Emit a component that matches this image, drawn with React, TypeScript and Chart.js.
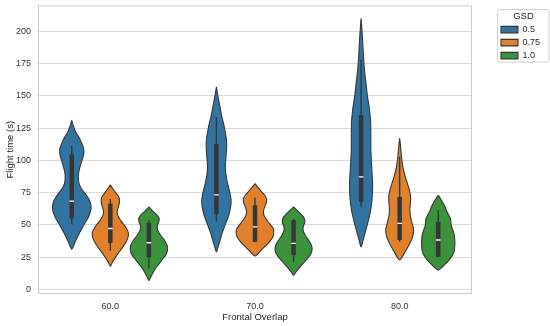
import React, { useEffect, useRef } from "react";
import { Chart, registerables } from "chart.js";

Chart.register(...registerables);

const CATEGORIES = ["60.0", "70.0", "80.0"];
const HUES = ["0.5", "0.75", "1.0"];
const HUE_COLORS = ["#3274a1", "#e1812c", "#3a923a"];
const Y_TICKS = [0, 25, 50, 75, 100, 125, 150, 175, 200];
const X_TITLE = "Frontal Overlap";
const Y_TITLE = "Flight time (s)";
const LEGEND_TITLE = "GSD";

// Violin density profiles: [flight time value, relative density]
const violin_60_05 = [[131, 0], [127, 1.5], [122, 4], [117, 8], [112, 11], [108, 12.5], [104, 12], [100, 10.5], [95, 8.5], [90, 7], [86, 6.8], [82, 7.5], [78, 10], [74, 14], [70, 17.5], [66, 19.5], [63, 19.8], [60, 19], [56, 17], [52, 14], [48, 11], [44, 8], [40, 5.5], [36, 3], [33, 1.5], [31, 0]];
const violin_60_075 = [[81, 0], [78, 2.5], [75, 5.5], [72, 8.5], [69, 9.5], [66, 9], [62, 7.5], [59, 7], [56, 8.5], [52, 12], [48, 16], [44, 18.5], [40, 18], [36, 15.5], [32, 12], [28, 8], [24, 4.5], [21, 2], [18, 0]];
const violin_60_10 = [[64, 0], [61, 3.5], [58, 8], [55, 10.5], [52, 10], [49, 8.5], [46, 9], [42, 12], [38, 16], [34, 18.8], [30, 19], [27, 17.5], [24, 14.5], [20, 10.5], [16, 6.5], [12, 3.5], [9, 1.5], [7, 0]];
const violin_70_05 = [[157, 0], [152, 1], [146, 2.5], [140, 4], [134, 5.5], [128, 7.5], [122, 9], [116, 10.3], [110, 10.5], [104, 10], [98, 9.3], [93, 9.2], [88, 10], [82, 11.5], [76, 13.5], [70, 15], [65, 14.8], [60, 13.5], [55, 11.5], [50, 9], [45, 6.5], [40, 4.5], [35, 2.5], [31, 1], [29, 0]];
const violin_70_075 = [[82, 0], [79, 3], [76, 6.5], [73, 10], [70, 12], [67, 11.5], [64, 10], [61, 8.8], [58, 9], [55, 11], [51, 15], [47, 18.8], [44, 19.3], [41, 18.5], [38, 16], [35, 12.5], [32, 8.5], [29, 4.5], [27, 2], [26, 0]];
const violin_70_10 = [[64, 0], [61, 4], [58, 8], [55, 11], [52, 11.5], [49, 10], [46, 9.8], [42, 12], [38, 15.5], [34, 18.5], [31, 19], [28, 18], [25, 15.5], [22, 12], [19, 8.5], [16, 5], [13, 2], [11, 0]];
const violin_80_05 = [[210, 0], [200, 1], [190, 1.8], [180, 2.5], [170, 3.5], [160, 5], [150, 6.5], [140, 8.5], [130, 9.8], [120, 10], [110, 10], [100, 10.5], [90, 11.3], [82, 11.8], [75, 11.7], [68, 11], [60, 9.5], [52, 7], [45, 4.5], [38, 2], [33, 0]];
const violin_80_075 = [[117, 0], [112, 0.8], [106, 1.5], [100, 2.3], [94, 3.5], [88, 5.5], [82, 8], [77, 10], [72, 11.2], [67, 11], [62, 10.5], [57, 11], [52, 12.5], [47, 14.2], [43, 14], [39, 12.5], [35, 10], [31, 7], [27, 4], [24, 1.5], [23, 0]];
const violin_80_10 = [[73, 0], [70, 2.5], [67, 5], [64, 7], [61, 8.5], [58, 10.5], [55, 12.5], [52, 13], [49, 13.5], [46, 15], [42, 16.5], [38, 17], [34, 17], [30, 16.5], [27, 15], [24, 12.5], [21, 9], [18, 5], [16, 2], [15, 0]];

// Inner box stats per category: [lower whisker, Q1, median, Q3, upper whisker]
const STATS_05 = [[50.6, 55, 68.4, 104.5, 111.7], [52.4, 58.5, 73.3, 112.7, 133.5], [64, 68, 87.2, 134.9, 178]];
const STATS_075 = [[30, 36, 47.2, 66.3, 70], [36.5, 37, 48.5, 65.3, 71.3], [37, 38.3, 51.2, 71.7, 103]];
const STATS_10 = [[16.4, 25, 36.2, 51.6, 53.7], [21.5, 26.7, 35.7, 53.7, 54.5], [25, 25.3, 38.3, 52.4, 61.4]];

const VIOLINS = [
  [violin_60_05, violin_60_075, violin_60_10],
  [violin_70_05, violin_70_075, violin_70_10],
  [violin_80_05, violin_80_075, violin_80_10],
];
const STATS = [STATS_05, STATS_075, STATS_10];

const LINE_COLOR = "#363636";
const TEXT_COLOR = "#262626";
const FONT = "'Liberation Sans', Arial, Helvetica, sans-serif";

export default function App() {
  const ref = useRef<HTMLCanvasElement>(null);

  useEffect(() => {
    const canvas = ref.current;
    if (!canvas) return;
    Chart.defaults.font.family = FONT;

    const nH = HUES.length;
    const slot = 0.8 / nH;
    const half = slot / 2;
    const maxD = Math.max(...VIOLINS.flat().flatMap((p) => p.map((r) => r[1])));
    const center = (c: number, h: number) => c + (h - (nH - 1) / 2) * slot;

    const datasets: any[] = [];
    // violins
    VIOLINS.forEach((row, c) => {
      row.forEach((prof, h) => {
        const cx = center(c, h);
        const right = prof.map(([v, d]) => ({ x: cx + (d / maxD) * half, y: v }));
        const left = prof
          .slice()
          .reverse()
          .slice(1)
          .map(([v, d]) => ({ x: cx - (d / maxD) * half, y: v }));
        datasets.push({
          label: HUES[h],
          data: [...right, ...left],
          borderColor: LINE_COLOR,
          backgroundColor: HUE_COLORS[h],
          borderWidth: 1.1,
          fill: "shape",
          tension: 0.3,
          pointRadius: 0,
          order: 3,
        });
      });
    });
    // inner boxes
    STATS.forEach((hueStats, h) => {
      hueStats.forEach(([lo, q1, med, q3, hi], c) => {
        const cx = center(c, h);
        datasets.push({
          label: "whisker",
          data: [{ x: cx, y: lo }, { x: cx, y: hi }],
          borderColor: LINE_COLOR,
          borderWidth: 1.4,
          pointRadius: 0,
          fill: false,
          order: 2,
        });
        datasets.push({
          label: "box",
          data: [{ x: cx, y: q1 }, { x: cx, y: q3 }],
          borderColor: LINE_COLOR,
          borderWidth: 4.5,
          borderCapStyle: "butt",
          pointRadius: 0,
          fill: false,
          order: 1,
        });
        datasets.push({
          label: "median",
          data: [{ x: cx, y: med }],
          showLine: false,
          pointStyle: "line",
          pointRadius: 2.3,
          pointBorderColor: "#ffffff",
          pointBackgroundColor: "#ffffff",
          pointBorderWidth: 1.4,
          fill: false,
          order: 0,
        });
      });
    });

    const framePlugin = {
      id: "frames",
      beforeDatasetsDraw(chart: any) {
        const { ctx, chartArea: a } = chart;
        ctx.save();
        ctx.strokeStyle = "#cccccc";
        ctx.lineWidth = 1;
        ctx.strokeRect(a.left + 0.5, a.top + 0.5, a.width - 1, a.height - 1);
        ctx.restore();
      },
      afterDraw(chart: any) {
        const lg = chart.legend;
        if (!lg || !lg.legendHitBoxes || !lg.legendHitBoxes.length) return;
        const last = lg.legendHitBoxes[lg.legendHitBoxes.length - 1];
        const ctx = chart.ctx;
        const x = lg.left + 0.5;
        const y = lg.top + 4.5;
        const w = lg.width - 1.5;
        const hgt = last.top + last.height + 2 - y;
        ctx.save();
        ctx.strokeStyle = "#d0d0d0";
        ctx.lineWidth = 1;
        ctx.beginPath();
        if (ctx.roundRect) ctx.roundRect(x, y, w, hgt, 2.5);
        else ctx.rect(x, y, w, hgt);
        ctx.stroke();
        ctx.restore();
      },
    };

    const chart = new Chart(canvas, {
      type: "line",
      data: { datasets },
      plugins: [framePlugin],
      options: {
        animation: false,
        responsive: false,
        maintainAspectRatio: false,
        layout: { padding: { top: 5, right: 0, bottom: 0, left: 0 } },
        events: [],
        plugins: {
          tooltip: { enabled: false },
          legend: {
            display: true,
            position: "right",
            align: "start",
            title: {
              display: true,
              text: LEGEND_TITLE,
              color: TEXT_COLOR,
              font: { size: 9.5, family: FONT },
              padding: { top: 6.5, bottom: -1.8 },
            },
            labels: {
              boxWidth: 17,
              boxHeight: 6.5,
              padding: 4,
              color: TEXT_COLOR,
              font: { size: 9, family: FONT },
              filter: (item: any) => item.datasetIndex < nH,
            },
          },
        },
        scales: {
          x: {
            type: "linear",
            min: -0.5,
            max: CATEGORIES.length - 0.5,
            afterBuildTicks: (s: any) => {
              s.ticks = CATEGORIES.map((_, i) => ({ value: i }));
            },
            afterFit: (s: any) => {
              s.height = 32;
              s.paddingLeft = 0;
              s.paddingRight = 0;
            },
            grid: { display: false, drawTicks: false },
            border: { display: false },
            ticks: {
              padding: 7,
              color: "#333333",
              font: { size: 9, family: FONT },
              callback: (v: any) => CATEGORIES[Math.round(Number(v))] ?? "",
              maxRotation: 0,
            },
            title: {
              display: true,
              text: X_TITLE,
              color: TEXT_COLOR,
              font: { size: 9.5, family: FONT },
              padding: { top: 0, bottom: 2.5 },
            },
          },
          y: {
            type: "linear",
            min: -3.5,
            max: 220,
            afterBuildTicks: (s: any) => {
              s.ticks = Y_TICKS.map((v) => ({ value: v }));
            },
            afterFit: (s: any) => {
              s.width = 38;
              s.paddingTop = 0;
              s.paddingBottom = 0;
            },
            grid: { color: "#d9d9d9", lineWidth: 1, drawTicks: false },
            border: { display: false },
            ticks: {
              padding: 7,
              color: "#333333",
              font: { size: 9, family: FONT },
            },
            title: {
              display: true,
              text: Y_TITLE,
              color: TEXT_COLOR,
              font: { size: 9.5, family: FONT },
              padding: { top: 4.5, bottom: 0 },
            },
          },
          y2: {
            type: "linear",
            position: "right",
            display: true,
            grid: { display: false, drawTicks: false },
            border: { display: false },
            ticks: { display: false },
            afterFit: (s: any) => {
              s.width = 25;
              s.paddingTop = 0;
              s.paddingBottom = 0;
            },
          },
        },
      },
    } as any);

    return () => chart.destroy();
  }, []);

  return (
    <div style={{ position: "absolute", left: 0, top: 0, width: 550, height: 326 }}>
      <canvas ref={ref} width={550} height={326} style={{ display: "block" }} />
    </div>
  );
}
